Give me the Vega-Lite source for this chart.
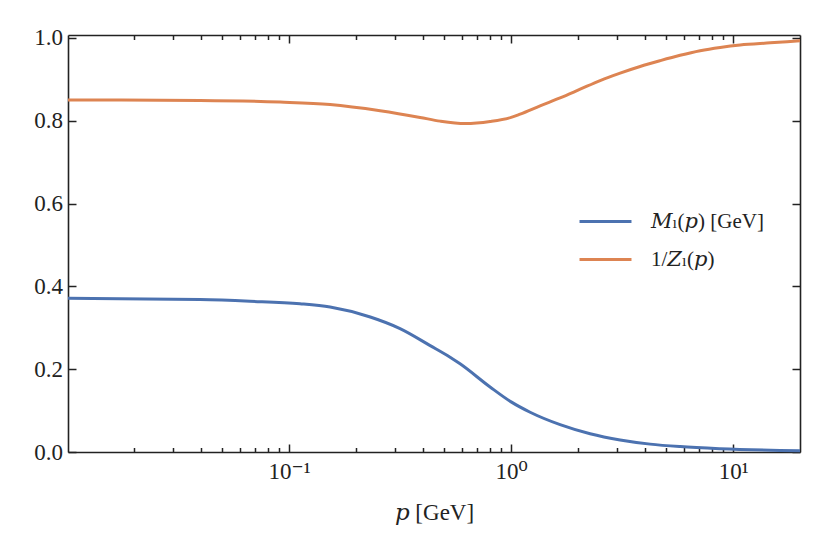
{
  "$schema": "https://vega.github.io/schema/vega-lite/v6.json",
  "autosize": "none",
  "width": 732,
  "height": 417,
  "padding": {"left": 68, "top": 35, "right": 30, "bottom": 102},
  "config": {
    "view": {"stroke": null},
    "font": "Liberation Serif, DejaVu Serif",
    "axis": {
      "grid": false,
      "domainColor": "#222222",
      "domainWidth": 1.6,
      "tickColor": "#222222",
      "tickWidth": 1.5,
      "labelFont": "Liberation Serif, DejaVu Serif",
      "labelFontSize": 23,
      "labelColor": "#222222",
      "titleFont": "Liberation Serif, DejaVu Serif",
      "titleFontSize": 23,
      "titleFontWeight": "normal",
      "titleColor": "#222222"
    }
  },
  "data": {
    "values": [
      {"p": 0.0101, "v": 0.850, "s": "1/𝑍ₗ(𝑝)"},
      {"p": 0.0397, "v": 0.849, "s": "1/𝑍ₗ(𝑝)"},
      {"p": 0.0911, "v": 0.845, "s": "1/𝑍ₗ(𝑝)"},
      {"p": 0.153, "v": 0.839, "s": "1/𝑍ₗ(𝑝)"},
      {"p": 0.257, "v": 0.824, "s": "1/𝑍ₗ(𝑝)"},
      {"p": 0.389, "v": 0.808, "s": "1/𝑍ₗ(𝑝)"},
      {"p": 0.479, "v": 0.799, "s": "1/𝑍ₗ(𝑝)"},
      {"p": 0.621, "v": 0.793, "s": "1/𝑍ₗ(𝑝)"},
      {"p": 0.804, "v": 0.798, "s": "1/𝑍ₗ(𝑝)"},
      {"p": 1.0, "v": 0.808, "s": "1/𝑍ₗ(𝑝)"},
      {"p": 1.098, "v": 0.816, "s": "1/𝑍ₗ(𝑝)"},
      {"p": 1.351, "v": 0.836, "s": "1/𝑍ₗ(𝑝)"},
      {"p": 1.662, "v": 0.855, "s": "1/𝑍ₗ(𝑝)"},
      {"p": 2.046, "v": 0.876, "s": "1/𝑍ₗ(𝑝)"},
      {"p": 2.517, "v": 0.897, "s": "1/𝑍ₗ(𝑝)"},
      {"p": 3.097, "v": 0.915, "s": "1/𝑍ₗ(𝑝)"},
      {"p": 3.811, "v": 0.931, "s": "1/𝑍ₗ(𝑝)"},
      {"p": 4.69, "v": 0.945, "s": "1/𝑍ₗ(𝑝)"},
      {"p": 5.77, "v": 0.958, "s": "1/𝑍ₗ(𝑝)"},
      {"p": 7.10, "v": 0.969, "s": "1/𝑍ₗ(𝑝)"},
      {"p": 8.74, "v": 0.977, "s": "1/𝑍ₗ(𝑝)"},
      {"p": 10.75, "v": 0.983, "s": "1/𝑍ₗ(𝑝)"},
      {"p": 14.68, "v": 0.988, "s": "1/𝑍ₗ(𝑝)"},
      {"p": 20.0, "v": 0.993, "s": "1/𝑍ₗ(𝑝)"},
      {"p": 0.0101, "v": 0.371, "s": "𝑀ₗ(𝑝) [GeV]"},
      {"p": 0.0397, "v": 0.368, "s": "𝑀ₗ(𝑝) [GeV]"},
      {"p": 0.0667, "v": 0.364, "s": "𝑀ₗ(𝑝) [GeV]"},
      {"p": 0.112, "v": 0.358, "s": "𝑀ₗ(𝑝) [GeV]"},
      {"p": 0.153, "v": 0.350, "s": "𝑀ₗ(𝑝) [GeV]"},
      {"p": 0.232, "v": 0.326, "s": "𝑀ₗ(𝑝) [GeV]"},
      {"p": 0.316, "v": 0.298, "s": "𝑀ₗ(𝑝) [GeV]"},
      {"p": 0.432, "v": 0.257, "s": "𝑀ₗ(𝑝) [GeV]"},
      {"p": 0.531, "v": 0.229, "s": "𝑀ₗ(𝑝) [GeV]"},
      {"p": 0.589, "v": 0.213, "s": "𝑀ₗ(𝑝) [GeV]"},
      {"p": 0.804, "v": 0.157, "s": "𝑀ₗ(𝑝) [GeV]"},
      {"p": 1.0, "v": 0.121, "s": "𝑀ₗ(𝑝) [GeV]"},
      {"p": 1.218, "v": 0.096, "s": "𝑀ₗ(𝑝) [GeV]"},
      {"p": 1.662, "v": 0.066, "s": "𝑀ₗ(𝑝) [GeV]"},
      {"p": 2.269, "v": 0.044, "s": "𝑀ₗ(𝑝) [GeV]"},
      {"p": 3.097, "v": 0.029, "s": "𝑀ₗ(𝑝) [GeV]"},
      {"p": 4.227, "v": 0.019, "s": "𝑀ₗ(𝑝) [GeV]"},
      {"p": 5.77, "v": 0.013, "s": "𝑀ₗ(𝑝) [GeV]"},
      {"p": 8.74, "v": 0.008, "s": "𝑀ₗ(𝑝) [GeV]"},
      {"p": 20.0, "v": 0.003, "s": "𝑀ₗ(𝑝) [GeV]"}
    ]
  },
  "resolve": {"axis": {"x": "independent", "y": "independent"}},
  "layer": [
    {
      "mark": {"type": "line", "strokeWidth": 3, "interpolate": "monotone"},
      "encoding": {
        "x": {
          "field": "p", "type": "quantitative",
          "scale": {"type": "log", "domain": [0.0101, 20], "nice": false},
          "axis": {
            "orient": "bottom", "title": "𝑝 [GeV]",
            "values": [0.02, 0.03, 0.04, 0.05, 0.06, 0.07, 0.08, 0.09, 0.1, 0.2, 0.3, 0.4, 0.5, 0.6, 0.7, 0.8, 0.9, 1, 2, 3, 4, 5, 6, 7, 8, 9, 10],
            "tickSize": {"condition": {"test": "datum.value == 0.1 || datum.value == 1 || datum.value == 10", "value": -8}, "value": -4.5},
            "labelPadding": 16, "titlePadding": 18,
            "labelExpr": "datum.value == 0.1 ? '10⁻¹' : datum.value == 1 ? '10⁰' : datum.value == 10 ? '10¹' : ''"
          }
        },
        "y": {
          "field": "v", "type": "quantitative",
          "scale": {"domain": [0, 1.007], "nice": false, "zero": false},
          "axis": {
            "orient": "left", "title": null, "values": [0, 0.2, 0.4, 0.6, 0.8, 1.0],
            "format": ".1f", "tickSize": -8, "labelPadding": 13.5
          }
        },
        "color": {
          "field": "s", "type": "nominal",
          "scale": {"domain": ["𝑀ₗ(𝑝) [GeV]", "1/𝑍ₗ(𝑝)"], "range": ["#4c72b0", "#dd8452"]},
          "legend": {
            "title": null, "orient": "none", "legendX": 510, "legendY": 159,
            "symbolType": "stroke", "symbolSize": 2700, "symbolStrokeWidth": 3,
            "labelFont": "Liberation Serif, DejaVu Serif", "labelFontSize": 21, "labelColor": "#222222",
            "labelOffset": 18, "rowPadding": 0
          }
        }
      }
    },
    {
      "mark": {"type": "line", "opacity": 0},
      "encoding": {
        "x": {
          "field": "p", "type": "quantitative",
          "axis": {
            "orient": "top", "title": null, "labels": false,
            "values": [0.02, 0.03, 0.04, 0.05, 0.06, 0.07, 0.08, 0.09, 0.1, 0.2, 0.3, 0.4, 0.5, 0.6, 0.7, 0.8, 0.9, 1, 2, 3, 4, 5, 6, 7, 8, 9, 10],
            "tickSize": {"condition": {"test": "datum.value == 0.1 || datum.value == 1 || datum.value == 10", "value": -8}, "value": -4.5}
          }
        },
        "y": {
          "field": "v", "type": "quantitative",
          "axis": {
            "orient": "right", "title": null, "labels": false,
            "values": [0, 0.2, 0.4, 0.6, 0.8, 1.0], "tickSize": -8
          }
        }
      }
    }
  ]
}
